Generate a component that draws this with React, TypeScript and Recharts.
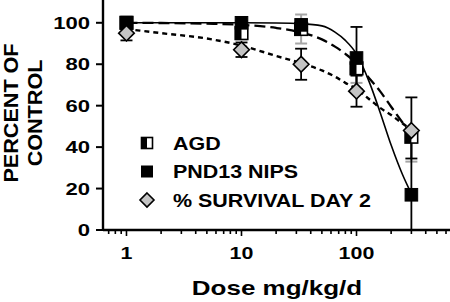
import React from 'react';
import { ComposedChart, Line, Scatter, XAxis, YAxis, ErrorBar, Legend, Label } from 'recharts';

const FONT = 'Liberation Sans, Arial, Helvetica, sans-serif';

// measured doses (mg/kg/d)
const doses = [1, 10, 33, 100, 300];
// AGD (half-filled square)
const agdValues = [100, 95, 97, 78, 45];
const agdErrors = [[3, 3], [3, 3], [7, 7], [7, 7], [12, 0]];
// PND13 NIPS (filled square)
const nipsValues = [100, 100, 99, 83, 17];
const nipsErrors = [[1, 1], [1, 1], [1, 1], [15, 15], [17, 47]];
// % survival day 2 (diamond)
const survValues = [95, 87, 80, 67, 48];
const survErrors = [[3.5, 3.5], [3.5, 3.5], [7.5, 7.5], [7.5, 7.5], [13.5, 0]];

// fitted curves
const fitDoses = [1, 2, 5, 10, 20, 33, 50, 65, 80, 100, 130, 160, 200, 250, 300];
const nipsFit = [100, 100, 100, 100, 99.9, 99.6, 98.5, 95.5, 91.5, 85, 71, 57, 41, 27, 17.5];
const agdFit = [100, 99.9, 99.6, 99, 97.5, 95.3, 92, 88.5, 85, 80.5, 73, 67, 59.5, 52, 46];
const survFit = [97, 95, 92.4, 89, 84, 80.5, 77, 74, 71, 68, 63, 59, 55.5, 51.5, 48.5];

const xTicks = [0.7, 0.8, 0.9, 1, 2, 3, 4, 5, 6, 7, 8, 9, 10, 20, 30, 40, 50, 60, 70, 80, 90, 100, 200, 300, 400, 500, 600];
const majorTicks = [1, 10, 100];
const yTicks = [0, 20, 40, 60, 80, 100];

const legendNames = ['AGD', 'PND13 NIPS', '% SURVIVAL DAY 2'];

const pts = (xs: number[], ys: number[], errs?: number[][]) =>
  xs.map((x, i) => ({ x, y: ys[i], err: errs ? errs[i] : undefined }));

const agdData = pts(doses, agdValues, agdErrors);
const nipsData = pts(doses, nipsValues, nipsErrors);
const survData = pts(doses, survValues, survErrors);
const nipsFitData = pts(fitDoses, nipsFit);
const agdFitData = pts(fitDoses, agdFit);
const survFitData = pts(fitDoses, survFit);

const HalfSquare = ({ cx, cy, s = 6.3 }: any) => (
  <g>
    <rect x={cx - s} y={cy - s} width={2 * s} height={2 * s} fill="#fff" stroke="#000" strokeWidth={1.6} />
    <rect x={cx - s} y={cy - s} width={s} height={2 * s} fill="#000" />
  </g>
);
const FullSquare = ({ cx, cy, s = 6.3 }: any) => (
  <rect x={cx - s} y={cy - s} width={2 * s} height={2 * s} fill="#000" stroke="#000" strokeWidth={1} />
);
const Diamond = ({ cx, cy, s = 7.8 }: any) => (
  <path d={`M${cx},${cy - s} L${cx + s},${cy} L${cx},${cy + s} L${cx - s},${cy} Z`} fill="#c4c4c4" stroke="#000" strokeWidth={1.6} />
);

const XTick = (props: any) => {
  const { x, y, payload } = props;
  const v = payload.value;
  const major = majorTicks.includes(v);
  return (
    <g>
      <line x1={x} x2={x} y1={y} y2={y + (major ? 6 : 4)} stroke="#000" strokeWidth={1.6} />
      {major && (
        <text transform={`translate(${x},${y + 29}) scale(1.3,1)`} textAnchor="middle" fontSize={16.5} fontWeight="bold" fontFamily={FONT} fill="#000">
          {v}
        </text>
      )}
    </g>
  );
};

const YTick = (props: any) => {
  const { x, y, payload } = props;
  return (
    <text transform={`translate(${x},${y + 6}) scale(1.3,1)`} textAnchor="end" fontSize={17} fontWeight="bold" fontFamily={FONT} fill="#000">
      {payload.value}
    </text>
  );
};

const renderLegend = () => (
  <svg width={300} height={95}>
    {legendNames.map((name, i) => {
      const cy = 15 + i * 28.5;
      const cx = 17;
      return (
        <g key={name}>
          {i === 0 && <HalfSquare cx={cx} cy={cy} s={5.5} />}
          {i === 1 && <FullSquare cx={cx} cy={cy} s={5.5} />}
          {i === 2 && <Diamond cx={cx} cy={cy} s={7} />}
          <text transform={`translate(43,${cy + 6.6}) scale(1.16,1)`} fontSize={18.5} fontWeight="bold" fontFamily={FONT} fill="#000">
            {name}
          </text>
        </g>
      );
    })}
  </svg>
);

export default function App() {
  return (
    <div style={{ position: 'absolute', left: 0, top: 0, background: '#fff' }}>
      <ComposedChart width={450} height={302} margin={{ top: 0, right: 0, bottom: 0, left: 0 }}>
        <XAxis
          dataKey="x"
          type="number"
          scale="log"
          domain={[0.625, 650]}
          allowDataOverflow
          ticks={xTicks}
          interval={0}
          tickSize={0}
          tickMargin={0}
          tickLine={false}
          tick={<XTick />}
          height={72}
          axisLine={{ stroke: '#000', strokeWidth: 2.4 }}
        >
          <Label
            content={() => (
              <text transform="translate(277,295) scale(1.3,1)" textAnchor="middle" fontSize={20} fontWeight="bold" fontFamily={FONT} fill="#000">
                Dose mg/kg/d
              </text>
            )}
          />
        </XAxis>
        <YAxis
          dataKey="y"
          type="number"
          domain={[0, 111]}
          allowDataOverflow
          ticks={yTicks}
          interval={0}
          width={103}
          tickSize={7}
          tickMargin={6}
          tickLine={{ stroke: '#000', strokeWidth: 2 }}
          tick={<YTick />}
          axisLine={{ stroke: '#000', strokeWidth: 2.4 }}
        >
          <Label
            content={() => (
              <g>
                <text transform="translate(17.5,113) rotate(-90) scale(1.08,1)" textAnchor="middle" fontSize={20} fontWeight="bold" fontFamily={FONT} fill="#000">
                  PERCENT OF
                </text>
                <text transform="translate(42,113) rotate(-90) scale(1.08,1)" textAnchor="middle" fontSize={20} fontWeight="bold" fontFamily={FONT} fill="#000">
                  CONTROL
                </text>
              </g>
            )}
          />
        </YAxis>
        <Line data={nipsFitData} dataKey="y" type="monotone" stroke="#000" strokeWidth={1.6} dot={false} activeDot={false} legendType="none" isAnimationActive={false} />
        <Line data={agdFitData} dataKey="y" type="monotone" stroke="#000" strokeWidth={2.3} strokeDasharray="11 5" dot={false} activeDot={false} legendType="none" isAnimationActive={false} />
        <Line data={survFitData} dataKey="y" type="monotone" stroke="#000" strokeWidth={2.4} strokeDasharray="5 4" dot={false} activeDot={false} legendType="none" isAnimationActive={false} />
        <Scatter name="AGD" data={agdData} shape={(p: any) => <HalfSquare cx={p.cx} cy={p.cy} />} isAnimationActive={false}>
          <ErrorBar dataKey="err" direction="y" width={6} stroke="#a6a6a6" strokeWidth={2} />
        </Scatter>
        <Scatter name="PND13 NIPS" data={nipsData} shape={(p: any) => <FullSquare cx={p.cx} cy={p.cy} />} isAnimationActive={false}>
          <ErrorBar dataKey="err" direction="y" width={6} stroke="#000" strokeWidth={1.8} />
        </Scatter>
        <Scatter name="% SURVIVAL DAY 2" data={survData} shape={(p: any) => <Diamond cx={p.cx} cy={p.cy} />} isAnimationActive={false}>
          <ErrorBar dataKey="err" direction="y" width={6} stroke="#000" strokeWidth={1.8} />
        </Scatter>
        <Legend
          layout="vertical"
          align="center"
          verticalAlign="middle"
          content={renderLegend}
          wrapperStyle={{ position: 'absolute', left: 130, top: 128, width: 300, height: 95 }}
        />
      </ComposedChart>
    </div>
  );
}
